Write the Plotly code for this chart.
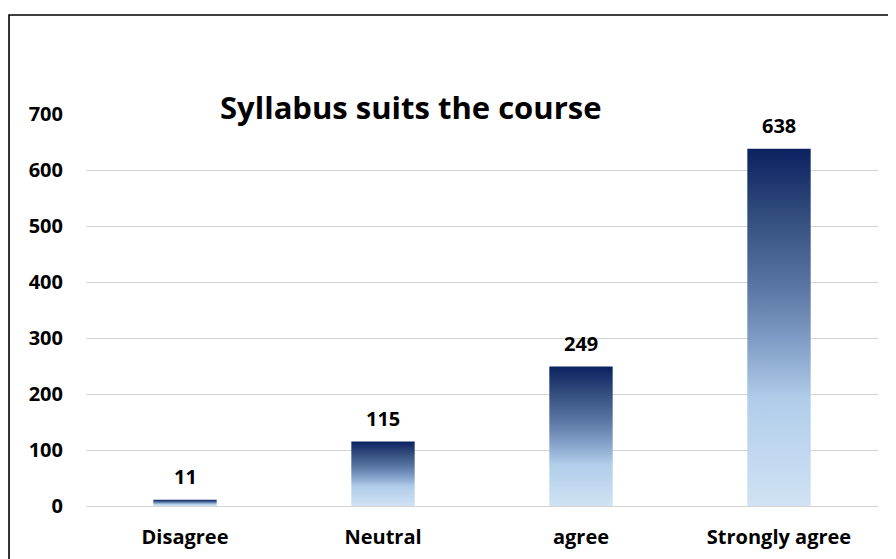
import plotly.graph_objects as go

categories = ["Disagree", "Neutral", "agree", "Strongly agree"]
values = [11, 115, 249, 638]
y_ticks = [0, 100, 200, 300, 400, 500, 600, 700]
title = "Syllabus suits the course"

FONT = "Open Sans"
half_w = 0.16
scale = [[0.0, "#d0e2f4"], [0.3, "#b0cdea"], [0.47, "#7d9bc4"],
         [0.63, "#56729f"], [0.8, "#34507f"], [1.0, "#0b2161"]]

fig = go.Figure()
for i, (c, v) in enumerate(zip(categories, values)):
    fig.add_trace(go.Scatter(
        x=[i - half_w, i + half_w, i + half_w, i - half_w, i - half_w],
        y=[0, 0, v, v, 0],
        mode="lines", line=dict(width=0), fill="toself",
        fillgradient=dict(type="vertical", colorscale=scale, start=0, stop=v),
        hoverinfo="skip", showlegend=False, name=c))
    fig.add_annotation(x=i, y=v, text=f"<b>{v}</b>", showarrow=False,
                       yshift=23, yanchor="middle",
                       font=dict(family=FONT, size=20, color="black"))

fig.add_shape(type="rect", xref="paper", yref="paper",
              x0=-0.0972, x1=1.2, y0=-0.3, y1=1.2526,
              line=dict(color="black", width=1.6), layer="above")

fig.add_annotation(xref="paper", yref="paper", x=0.41, y=1.017,
                   xanchor="center", yanchor="middle",
                   text=f"<b>{title}</b>", showarrow=False,
                   font=dict(family=FONT, size=31, color="black"))

fig.update_layout(
    width=896, height=559,
    margin=dict(l=78, r=26, t=106, b=61),
    paper_bgcolor="white", plot_bgcolor="white",
    font=dict(family=FONT, color="black"),
    xaxis=dict(range=[-0.5, 3.5], tickvals=list(range(len(categories))),
               ticktext=[f"<b>{c}</b>" for c in categories],
               showgrid=False, zeroline=False, showline=False,
               tickfont=dict(size=20), ticklabelstandoff=17, fixedrange=True),
    yaxis=dict(range=[0, 700], tickvals=y_ticks,
               ticktext=[f"<b>{t}</b>" for t in y_ticks],
               showgrid=True, gridcolor="#d4d4d4", gridwidth=1.4,
               zeroline=True, zerolinecolor="#d4d4d4", zerolinewidth=1.4,
               showline=False, tickfont=dict(size=20), ticklabelstandoff=22),
)

fig.write_html("out.html")
